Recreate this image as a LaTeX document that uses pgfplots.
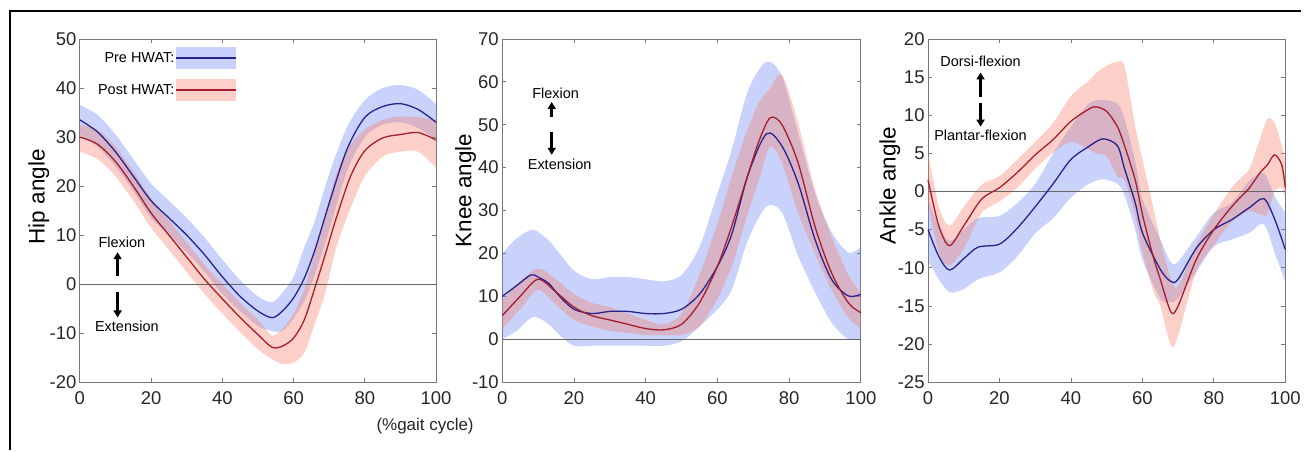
\documentclass[border=0pt]{standalone}
\usepackage{fontspec}
\setmainfont{Liberation Sans}
\usepackage{pgfplots}
\pgfplotsset{compat=1.18}
\usepackage{pgfplotstable}
\usepgfplotslibrary{fillbetween}
\usetikzlibrary{arrows.meta}

\definecolor{bandB}{RGB}{100,125,240}
\definecolor{bandR}{RGB}{245,120,100}
\definecolor{lineB}{RGB}{40,35,140}
\definecolor{lineR}{RGB}{165,30,45}
\definecolor{axgray}{RGB}{120,120,120}

\tikzset{annarrow/.style={line width=3pt, -{Triangle[length=7pt,width=8pt]}}}

\pgfplotstableread{
x lo m hi
0 30.5 33.5 36.5
5 28 31 34.5
10 24 27 30.5
15 19 22 25.5
20 13.5 17 20.5
25 10 13.5 17
30 6.5 10 13.5
35 2.5 6 9.5
40 -2 1.5 5
45 -5.5 -2.5 0.8
50 -8.5 -5.5 -2.5
54 -9.6 -6.85 -3.7
57 -9.5 -5.4 -1.6
60 -7 -2.8 1.5
63 -3.5 1.2 7.5
66 2 7 13
70 11 16.5 22.5
75 23 27.5 32
80 30 34 37.5
85 32.5 36.2 40
90 33 36.8 40.6
95 31.8 35.6 39.6
100 29.5 33 36.7
}\hipPre

\pgfplotstableread{
x lo m hi
0 27 30 32.5
5 25.5 28.5 31.5
10 22 25 28
15 17 20 23
20 11.5 14.5 17.5
25 7 10 13
30 2.5 5.5 8.5
35 -2 1 4
40 -6 -3 0
45 -9.8 -6.8 -3.8
50 -13.3 -10.3 -7.3
54 -15.3 -12.9 -10.5
57 -16.3 -12.6 -9
60 -16 -11 -6
63 -14 -7.3 -1
66 -8 -0.7 6.5
69 -1.5 6.3 14.5
72 7.5 13.5 22.5
76 15.5 22 28.5
80 22 27.2 31.5
85 26 29.8 33.5
90 27 30.5 34.2
95 27 30.9 34
100 23.7 29.4 33.5
}\hipPost

\pgfplotstableread{
x lo m hi
0 0 10 20
4 2 12.5 23.5
8 5 15 25.5
10 5 14.5 25
13 3.5 13 23
16 1 10 20
20 -1.5 7 16
25 -1.5 6 14
30 -1.5 6.5 14.5
35 -1.5 6.5 14.5
40 -1.5 6 14
45 -1.5 6 13.5
50 -0.5 7 15
55 3 10.5 21.5
60 7 17 34
64 11.6 24.5 44.2
68.6 23.3 38.5 58.1
73.7 31 47.9 64.7
78 29.5 45 61.2
82.5 19.4 36.4 48
87.2 11 23.3 34
91.8 3.9 14 25
96.5 0 10.1 20.2
100 0 10.5 21.5
}\kneePre

\pgfplotstableread{
x lo m hi
0 2.5 5.5 9
5 7 10 13.5
10 11.5 14 16.5
15 8 11 14
20 4.5 7.5 10.5
25 3 5.5 8.5
30 2 4.5 7.5
35 1.5 3.5 6
40 1 2.5 4.5
45 1 2.2 3.5
50 1 3.5 6
55 3 8.5 15
60 9.5 17 27
64 17 26.4 38
68 28 37 48
71.5 37 46 55
74.7 44.9 51.6 58.5
78 41 50 61.6
82.5 29.5 41.1 50.4
87.2 20 26.3 34.9
91.8 11.6 15.5 24
96.5 5 8.5 15
100 2.5 6.2 11
}\kneePost

\pgfplotstableread{
x lo m hi
0 -9 -5 -1
3 -11.5 -8.5 -4.5
6 -13.2 -10.3 -6.5
10 -12.8 -8.8 -5
14 -11.5 -7.3 -3.5
20 -10.6 -6.9 -3.2
25 -8.5 -4.8 -1.5
30 -5.5 -2 1
35 -3.5 1 5
40 -0.8 4.2 8.5
45 1 5.9 11.5
49 1.6 6.9 12
53 1 6 11.5
55 -0.5 3 9.5
58 -5 -1.5 4
60 -8.9 -5.4 -1
65 -14 -10.2 -6.3
68 -14.5 -11.8 -9.3
70 -14 -11.5 -9.2
75 -10.6 -7.5 -6
80 -7.2 -5 -2.8
85 -6.3 -3.7 -1.5
90 -5.4 -2.1 1.4
94 -4.3 -0.95 2.4
97 -8 -3.6 -0.6
100 -11.9 -7.6 -2.8
}\ankPre

\pgfplotstableread{
x lo m hi
0 -1.5 1.5 5
3 -8 -4.5 -1.9
6 -9.7 -7.1 -4.5
10 -7.5 -4.5 -2
15 -2.8 -1 0.9
20 -1.3 0.5 2
25 0.5 2.5 4.2
30 3 4.8 6.5
35 5.1 6.8 9
40 6.5 9.2 12.5
45 5.5 10.8 14.5
47 5 11.1 15.5
50 4.6 10.5 16.5
53 2 8.5 17
55 1.5 6 16.4
58 -3.2 1.5 8.5
60 -8 -3 4.2
63 -13 -8.5 -2
65 -15 -11.5 -6.3
68 -20.2 -15.8 -11.5
70 -18.9 -15 -12.4
75 -10.6 -9 -7.1
80 -7 -5 -3
85 -4 -2 0.5
88 -3 -0.5 2
90 -2.5 0.5 3
93 -3 2.5 7
95 -3 3.5 9.5
97 0 4.8 9
99 0.5 3.5 6
100 -1 0.5 4
}\ankPost

\pgfplotsset{
  panel/.style={
    scale only axis, height=344pt, anchor=south west,
    xmin=0, xmax=100, xtick={0,20,...,100},
    tick align=inside,
    axis line style={axgray, line width=0.8pt},
    major tick style={axgray, line width=0.8pt},
    major tick length=4pt,
    ticklabel style={font=\fontsize{18.5}{18.5}\selectfont, text=black!85},
    xticklabel style={yshift=-6pt},
    /pgf/number format/assume math mode=true,
    ylabel style={font=\fontsize{22.5}{22.5}\selectfont, anchor=center},
    clip=false,
  },
}

\newcommand{\bands}[3]{%
  \addplot[name path=#2U, draw=none, smooth] table[x=x,y=hi]{#1};
  \addplot[name path=#2L, draw=none, smooth] table[x=x,y=lo]{#1};
  \addplot[#3, fill opacity=0.35, draw=none] fill between[of=#2U and #2L];
}

\begin{document}
\begin{tikzpicture}
\path (0pt,0pt) rectangle (1304pt,451pt);
\draw[line width=2pt] (10pt,0pt) -- (10pt,440pt) -- (1304pt,440pt);

% ---------- Hip ----------
\begin{axis}[panel, width=357pt, at={(80pt,68pt)},
  ymin=-20, ymax=50, ytick={-20,-10,...,50},
  ylabel={Hip angle},
  ylabel style={at={(axis description cs:-0.115,0.54)}},
]
\bands{\hipPre}{hb}{bandB}
\bands{\hipPost}{hr}{bandR}
\addplot[black!60, line width=1pt] coordinates {(0,0) (100,0)};
\addplot[lineB, line width=1.3pt, smooth] table[x=x,y=m]{\hipPre};
\addplot[lineR, line width=1.3pt, smooth] table[x=x,y=m]{\hipPost};
% legend key
\fill[bandB, fill opacity=0.35] (axis cs:26.9,43.9) rectangle (axis cs:43.7,48.3);
\draw[lineB, line width=1.6pt] (axis cs:26.9,46.1) -- (axis cs:43.7,46.1);
\node[anchor=east, inner sep=1pt, font=\fontsize{14.5}{14.5}\selectfont] at (axis cs:26.9,46.1) {Pre HWAT:};
\fill[bandR, fill opacity=0.35] (axis cs:26.9,37.4) rectangle (axis cs:43.7,41.8);
\draw[lineR, line width=1.6pt] (axis cs:26.9,39.6) -- (axis cs:43.7,39.6);
\node[anchor=east, inner sep=1pt, font=\fontsize{14.5}{14.5}\selectfont] at (axis cs:26.9,39.6) {Post HWAT:};
% annotation
\node[font=\fontsize{14.5}{14.5}\selectfont] at (axis cs:11.8,8.5) {Flexion};
\draw[annarrow] (axis cs:10.6,1.6) -- (axis cs:10.6,6.5);
\draw[annarrow] (axis cs:10.6,-1.7) -- (axis cs:10.6,-6.8);
\node[font=\fontsize{14.5}{14.5}\selectfont] at (axis cs:13.2,-8.6) {Extension};
\end{axis}

% ---------- Knee ----------
\begin{axis}[panel, width=359.4pt, at={(503.3pt,68pt)},
  ymin=-10, ymax=70, ytick={-10,0,...,70},
  ylabel={Knee angle},
  ylabel style={at={(axis description cs:-0.102,0.558)}},
]
\bands{\kneePre}{kb}{bandB}
\bands{\kneePost}{kr}{bandR}
\addplot[black!60, line width=1pt] coordinates {(0,0) (100,0)};
\addplot[lineB, line width=1.3pt, smooth] table[x=x,y=m]{\kneePre};
\addplot[lineR, line width=1.3pt, smooth] table[x=x,y=m]{\kneePost};
\node[font=\fontsize{14.5}{14.5}\selectfont] at (axis cs:14.9,57.4) {Flexion};
\draw[annarrow] (axis cs:13.8,51.9) -- (axis cs:13.8,55.3);
\draw[annarrow] (axis cs:13.8,48.4) -- (axis cs:13.8,43.0);
\node[font=\fontsize{14.5}{14.5}\selectfont] at (axis cs:16.0,40.7) {Extension};
\end{axis}

% ---------- Ankle ----------
\begin{axis}[panel, width=358pt, at={(930pt,68pt)},
  ymin=-25, ymax=20, ytick={-25,-20,...,20},
  ylabel={Ankle angle},
  ylabel style={at={(axis description cs:-0.107,0.573)}},
]
\bands{\ankPre}{ab}{bandB}
\bands{\ankPost}{ar}{bandR}
\addplot[black!60, line width=1pt] coordinates {(0,0) (100,0)};
\addplot[lineB, line width=1.3pt, smooth] table[x=x,y=m]{\ankPre};
\addplot[lineR, line width=1.3pt, smooth] table[x=x,y=m]{\ankPost};
\node[font=\fontsize{14.5}{14.5}\selectfont] at (axis cs:14.7,17.0) {Dorsi-flexion};
\draw[annarrow] (axis cs:14.7,12.4) -- (axis cs:14.7,15.6);
\draw[annarrow] (axis cs:14.7,11.6) -- (axis cs:14.7,8.5);
\node[font=\fontsize{14.5}{14.5}\selectfont] at (axis cs:14.7,7.3) {Plantar-flexion};
\end{axis}

\node[font=\fontsize{17}{17}\selectfont, text=black!85] at (426pt,24pt) {(\%gait cycle)};
\end{tikzpicture}
\end{document}
